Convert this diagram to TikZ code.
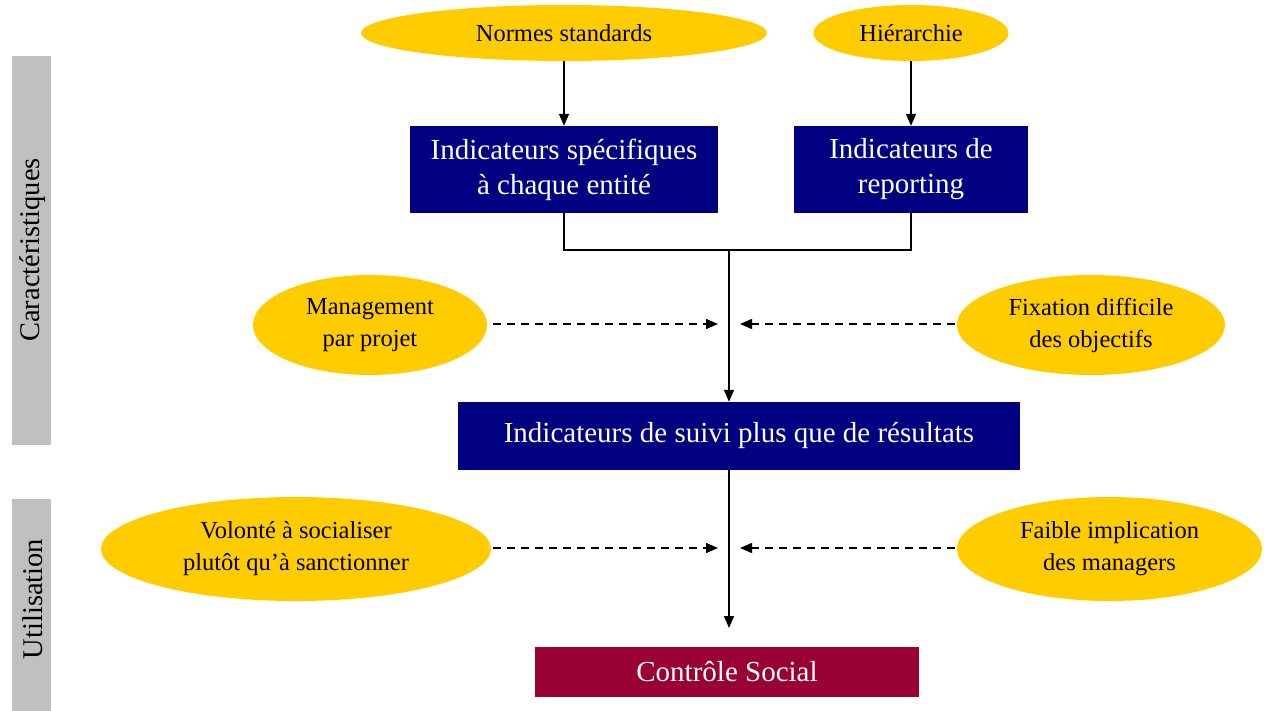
\documentclass[tikz,border=0pt]{standalone}
\usepackage{fontspec}
\setmainfont{Liberation Serif}
\usetikzlibrary{shapes.geometric,arrows.meta}
\definecolor{yel}{HTML}{FFCC00}
\definecolor{navy}{HTML}{000080}
\definecolor{crim}{HTML}{990033}
\definecolor{gbar}{HTML}{C0C0C0}
\tikzset{
  ell/.style={ellipse,fill=yel,draw=none,inner sep=0pt,align=center,font=\fontsize{24.5}{32}\selectfont},
  bluebox/.style={rectangle,fill=navy,text=white,inner sep=0pt,align=center,font=\fontsize{29}{35}\selectfont},
  redbox/.style={rectangle,fill=crim,text=white,inner sep=0pt,align=center,font=\fontsize{29}{32}\selectfont},
  bartext/.style={rotate=90,font=\fontsize{28.5}{32}\selectfont},
  arr/.style={line width=1.4pt,-{Triangle[length=12pt,width=10pt]}},
  plain/.style={line width=1.1pt},
  darr/.style={line width=1.4pt,dash pattern=on 8pt off 6pt,-{Triangle[length=12pt,width=10pt]}}
}
\begin{document}
\begin{tikzpicture}[x=1pt,y=-1pt]
\useasboundingbox (0,0) rectangle (1264,711);
% gray bars
\fill[gbar] (12,56) rectangle (51,445);
\fill[gbar] (12,499) rectangle (51,711);
\node[bartext] (tc) at (33,250) {Caractéristiques};
\node[bartext] (tu) at (33,599) {Utilisation};
% top ellipses
\node[ell,minimum width=406pt,minimum height=56pt] (ns) at (564,33) {Normes standards};
\node[ell,minimum width=195pt,minimum height=56pt] (hi) at (911,33) {Hiérarchie};
% boxes
\node[bluebox,minimum width=308pt,minimum height=87pt] (b1) at (564,169.5) {Indicateurs spécifiques\\à chaque entité};
\node[bluebox,minimum width=234pt,minimum height=87pt] (b2) at (911,169.5) {Indicateurs de\\reporting};
\node[bluebox,minimum width=562pt,minimum height=68pt] (b3) at (739,436) {Indicateurs de suivi plus que de résultats};
\node[redbox,minimum width=384pt,minimum height=50pt] (b4) at (727,672) {Contrôle Social};
% side ellipses
\node[ell,minimum width=234pt,minimum height=100pt] (mp) at (370,325) {Management\\par projet};
\node[ell,minimum width=268pt,minimum height=100pt] (fd) at (1091,325) {Fixation difficile\\des objectifs};
\node[ell,minimum width=390pt,minimum height=104pt] (vs) at (296,549) {Volonté à socialiser\\plutôt qu’à sanctionner};
\node[ell,minimum width=305pt,minimum height=104pt] (fi) at (1109.5,549) {Faible implication\\des managers};
% coordinates
\coordinate (j) at (729,250);
\coordinate (e) at (729,628);
\coordinate (l1) at (718,324);
\coordinate (r1) at (740,324);
\coordinate (l2) at (718,548);
\coordinate (r2) at (740,548);
% connectors
\draw[arr] (ns.south) -- (b1.north);
\draw[arr] (hi.south) -- (b2.north);
\draw[plain] (b1.south) |- (j) -| (b2.south);
\draw[arr] (j) -- (j |- b3.north);
\draw[arr] (j |- b3.south) -- (e);
\draw[darr] ([xshift=6pt]mp.east |- l1) -- (l1);
\draw[darr] ([xshift=-2pt]fd.west |- r1) -- (r1);
\draw[darr] ([xshift=2pt]vs.east |- l2) -- (l2);
\draw[darr] ([xshift=-2pt]fi.west |- r2) -- (r2);
\end{tikzpicture}
\end{document}
